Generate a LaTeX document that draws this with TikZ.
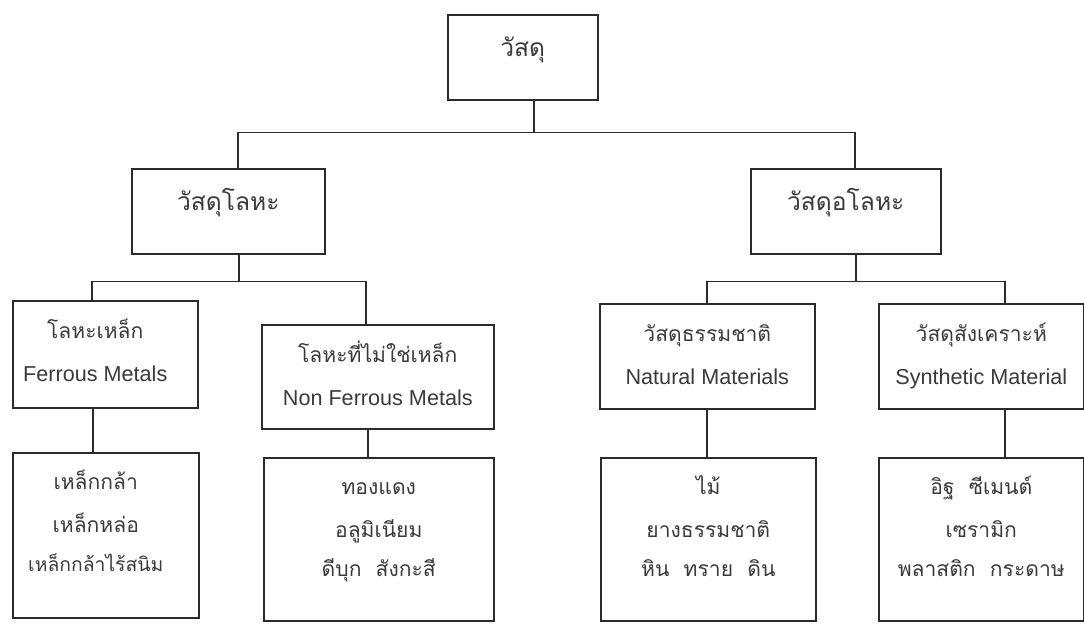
\documentclass[tikz,border=0pt]{standalone}
\usepackage{fontspec}
\setsansfont{Liberation Sans}
\newfontfamily\thaifont[Script=Thai]{Loma}
\usetikzlibrary{positioning}
\definecolor{matline}{HTML}{2B2B2B}
\definecolor{matink}{HTML}{3A3A3A}
\tikzset{
  matbox/.style  = {draw=matline, line width=0.9pt, inner sep=0pt,
                    anchor=north west},
  matttl/.style  = {font=\thaifont\fontsize{14}{16}\selectfont, text=matink,
                    anchor=base, inner sep=0pt},
  matsub/.style  = {font=\thaifont\fontsize{12}{14}\selectfont, text=matink,
                    anchor=base, inner sep=0pt},
  mateng/.style  = {font=\sffamily\fontsize{12.3}{14}\selectfont, text=matink,
                    anchor=base, inner sep=0pt},
  matlink/.style = {draw=matline, line width=1pt},
}
\begin{document}
\begin{tikzpicture}
    \useasboundingbox (0,0) rectangle (21.68,-12.46);

    % top
    \node[matbox, minimum width=3.0cm, minimum height=1.7cm] (root) at (8.94,-0.28) {};
    \node[matttl] (rootttl) at ([yshift=-8.5mm]root.north) {วัสดุ};

    % metal / non-metal
    \node[matbox, minimum width=3.86cm, minimum height=1.7cm] (metal) at (2.62,-3.36) {};
    \node[matttl] (metalttl) at ([yshift=-8.5mm]metal.north) {วัสดุโลหะ};
    \node[matbox, minimum width=3.8cm, minimum height=1.7cm] (nonmetal) at (15.0,-3.36) {};
    \node[matttl] (nonmetalttl) at ([yshift=-8.5mm]nonmetal.north) {วัสดุอโลหะ};

    % groups
    \node[matbox, minimum width=3.7cm, minimum height=2.14cm] (ferrous) at (0.24,-6.0) {};
    \node[matsub] (ferttl) at ([xshift=-2mm, yshift=-7.6mm]ferrous.north) {โลหะเหล็ก};
    \node[mateng] (fereng) at ([xshift=-2mm, yshift=-16.3mm]ferrous.north) {Ferrous Metals};

    \node[matbox, minimum width=4.64cm, minimum height=2.08cm] (nonferrous) at (5.22,-6.48) {};
    \node[matsub] (nferttl) at ([yshift=-7.6mm]nonferrous.north) {โลหะที่ไม่ใช่เหล็ก};
    \node[mateng] (nfereng) at ([yshift=-16.3mm]nonferrous.north) {Non Ferrous Metals};

    \node[matbox, minimum width=4.3cm, minimum height=2.1cm] (natural) at (11.98,-6.06) {};
    \node[matsub] (natttl) at ([yshift=-7.6mm]natural.north) {วัสดุธรรมชาติ};
    \node[mateng] (nateng) at ([yshift=-16.3mm]natural.north) {Natural Materials};

    \node[matbox, minimum width=4.1cm, minimum height=2.1cm] (synthetic) at (17.56,-6.06) {};
    \node[matsub] (synttl) at ([yshift=-7.6mm]synthetic.north) {วัสดุสังเคราะห์};
    \node[mateng] (syneng) at ([yshift=-16.3mm]synthetic.north) {Synthetic Material};

    % examples
    \node[matbox, minimum width=3.72cm, minimum height=3.3cm] (ferleaf) at (0.24,-9.04) {};
    \node[matsub] (ferlista) at ([xshift=-2mm, yshift=-7.4mm]ferleaf.north) {เหล็กกล้า};
    \node[matsub] (ferlistb) at ([xshift=-2mm, yshift=-16.0mm]ferleaf.north) {เหล็กหล่อ};
    \node[matsub, font=\thaifont\fontsize{11}{13}\selectfont] (ferlistc)
         at ([xshift=-2mm, yshift=-23.8mm]ferleaf.north) {เหล็กกล้าไร้สนิม};

    \node[matbox, minimum width=4.6cm, minimum height=3.26cm] (nferleaf) at (5.26,-9.14) {};
    \node[matsub] (nferlista) at ([yshift=-7.4mm]nferleaf.north) {ทองแดง};
    \node[matsub] (nferlistb) at ([yshift=-16.0mm]nferleaf.north) {อลูมิเนียม};
    \node[matsub] (nferlistc) at ([yshift=-23.8mm]nferleaf.north) {ดีบุก\ \ สังกะสี};

    \node[matbox, minimum width=4.3cm, minimum height=3.26cm] (natleaf) at (12.0,-9.14) {};
    \node[matsub] (natlista) at ([yshift=-7.4mm]natleaf.north) {ไม้};
    \node[matsub] (natlistb) at ([yshift=-16.0mm]natleaf.north) {ยางธรรมชาติ};
    \node[matsub] (natlistc) at ([yshift=-23.8mm]natleaf.north) {หิน\ \ ทราย\ \ ดิน};

    \node[matbox, minimum width=4.1cm, minimum height=3.26cm] (synleaf) at (17.56,-9.14) {};
    \node[matsub] (synlista) at ([yshift=-7.4mm]synleaf.north) {อิฐ\ \ ซีเมนต์};
    \node[matsub] (synlistb) at ([yshift=-16.0mm]synleaf.north) {เซรามิก};
    \node[matsub] (synlistc) at ([yshift=-23.8mm]synleaf.north) {พลาสติก\ \ กระดาษ};

    % tree lines
    \draw[matlink] ([xshift=2.2mm]root.south) -- ++(0,-0.64) coordinate (rootjoin);
    \draw[matlink] ([xshift=1.9mm]metal.north) |- (rootjoin) -| ([xshift=1.8mm]nonmetal.north);

    \draw[matlink] ([xshift=2.1mm]metal.south) -- ++(0,-0.54) coordinate (metaljoin);
    \draw[matlink] ([xshift=-2.7mm]ferrous.north) |- (metaljoin) -| ([xshift=-2.4mm]nonferrous.north);
    \draw[matlink] ([xshift=2mm]nonmetal.south) -- ++(0,-0.54) coordinate (nonmetaljoin);
    \draw[matlink] (natural.north) |- (nonmetaljoin) -| ([xshift=4.8mm]synthetic.north);

    \draw[matlink] ([xshift=-2.5mm]ferrous.south) -- ([xshift=-2.5mm]ferrous.south |- ferleaf.north);
    \draw[matlink] ([xshift=-2mm]nonferrous.south) -- ([xshift=-2mm]nonferrous.south |- nferleaf.north);
    \draw[matlink] (natural.south) -- (natural.south |- natleaf.north);
    \draw[matlink] ([xshift=4.8mm]synthetic.south) -- ([xshift=4.8mm]synthetic.south |- synleaf.north);
\end{tikzpicture}
\end{document}
